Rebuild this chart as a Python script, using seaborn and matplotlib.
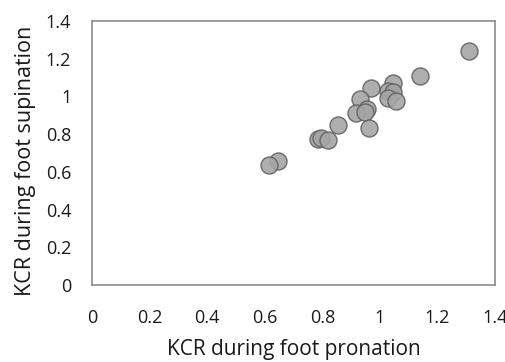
import pandas as pd
import numpy as np
import matplotlib.pyplot as plt
import seaborn as sns

# KCR values
kcr_pronation = [1.310, 1.141, 0.968, 1.046, 1.027, 1.046, 1.027, 1.056,
                 0.932, 0.957, 0.917, 0.950, 0.963, 0.853, 0.786, 0.797,
                 0.821, 0.647, 0.615]
kcr_supination = [1.242, 1.108, 1.046, 1.073, 1.029, 1.025, 0.990, 0.976,
                  0.985, 0.932, 0.914, 0.920, 0.831, 0.848, 0.772, 0.780,
                  0.769, 0.657, 0.635]
tick_values = [0, 0.2, 0.4, 0.6, 0.8, 1.0, 1.2, 1.4]
tick_labels = ["0", "0.2", "0.4", "0.6", "0.8", "1", "1.2", "1.4"]

df = pd.DataFrame({"pron": kcr_pronation, "sup": kcr_supination})

sns.set_style("white")
plt.rcParams['font.family'] = ['Open Sans', 'DejaVu Sans']

fig = plt.figure(figsize=(5.06, 3.62), dpi=100)
ax = fig.add_axes([92 / 506, 1 - 285 / 362, 403 / 506, 264 / 362])

sns.scatterplot(x="pron", y="sup", data=df, ax=ax, s=150,
                color="#a5a5a5", edgecolor="#606060", linewidth=1.0,
                alpha=0.9, zorder=3)

ax.set_xlim(0, 1.4)
ax.set_ylim(0, 1.4)
ax.set_xticks(tick_values)
ax.set_xticklabels(tick_labels)
ax.set_yticks(tick_values)
ax.set_yticklabels(tick_labels)
ax.tick_params(direction="in", length=4, width=1, color="#7f7f7f",
               labelsize=13, labelcolor="#1a1a1a")
ax.tick_params(axis="x", pad=17)
ax.tick_params(axis="y", pad=15)
for s in ax.spines.values():
    s.set_color("#8c8c8c")
    s.set_linewidth(1.2)

ax.set_xlabel("KCR during foot pronation", fontsize=15, color="#1a1a1a")
ax.set_ylabel("KCR during foot supination", fontsize=15.5, color="#1a1a1a")
ax.xaxis.set_label_coords(0.5, -0.205)
ax.yaxis.set_label_coords(-0.14, 0.47)

plt.savefig("out.png", dpi=100)
plt.close()
